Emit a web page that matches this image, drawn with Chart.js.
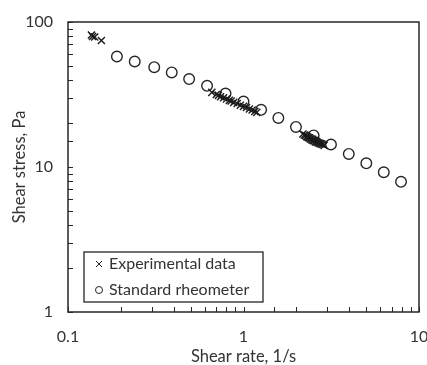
<!DOCTYPE html>
<html>
<head>
<meta charset="utf-8">
<script src="https://cdn.jsdelivr.net/npm/chart.js@4.4.1/dist/chart.umd.min.js"></script>
<style>
  html, body { margin: 0; padding: 0; background: #fff; }
  #wrap { width: 427px; height: 365px; }
</style>
</head>
<body>
<div id="wrap"><canvas id="flow" width="427" height="365"></canvas></div>
<script>
// Experimental data (crosses)
var expX = [0.136, 0.138, 0.142, 0.155,
            0.66, 0.70, 0.72, 0.74, 0.77, 0.80, 0.83, 0.85, 0.88, 0.92, 0.96, 1.00, 1.04, 1.08, 1.12, 1.16, 1.19,
            2.18, 2.22, 2.26, 2.29, 2.32, 2.35, 2.38, 2.40, 2.43, 2.46, 2.48, 2.51, 2.54, 2.57, 2.60, 2.63, 2.66, 2.70, 2.74, 2.78, 2.83, 2.88];
var expY = [81.4, 79.4, 78.8, 74.6,
            32.7, 31.6, 31.2, 30.5, 30.0, 29.4, 28.8, 28.5, 27.9, 27.4, 26.7, 26.2, 25.7, 25.1, 24.7, 24.2, 23.8,
            16.9, 16.6, 16.5, 16.2, 16.1, 15.9, 15.9, 15.6, 15.6, 15.3, 15.5, 15.2, 15.2, 14.9, 15.0, 14.8, 14.7, 14.6, 14.5, 14.4, 14.3, 14.1];

// Standard rheometer (open circles)
var rheoX = [0.19, 0.24, 0.31, 0.39, 0.49, 0.62, 0.79, 1.0, 1.26, 1.58, 1.99, 2.51, 3.15, 3.98, 5.01, 6.3, 7.9];
var rheoY = [57.8, 53.4, 48.8, 44.9, 40.4, 36.3, 32.1, 28.3, 24.8, 21.8, 18.9, 16.5, 14.3, 12.3, 10.6, 9.2, 7.9];

var xLabels = ["0.1", "1", "10"];
var yLabels = ["1", "10", "100"];

var txtColor = "#333";
var fontFam = "Lato, 'Liberation Sans', sans-serif";

function pairs(xs, ys) {
	return xs.map(function (x, i) { return { x: x, y: ys[i] }; });
}

// frame around the plot + small ticks pointing inside
var framePlugin = {
	id: "frame",
	beforeDatasetsDraw: function (chart) {
		var ctx = chart.ctx, a = chart.chartArea;
		ctx.save();
		ctx.strokeStyle = "#262626";
		ctx.lineWidth = 1.5;
		ctx.strokeRect(a.left, a.top, a.right - a.left, a.bottom - a.top);
		ctx.lineWidth = 1;
		var xs = chart.scales.x, ys = chart.scales.y;
		xs.ticks.forEach(function (t) {
			var px = Math.round(xs.getPixelForValue(t.value)) + 0.5;
			ctx.beginPath();
			ctx.moveTo(px, a.bottom);
			ctx.lineTo(px, a.bottom - 5);
			ctx.stroke();
		});
		ys.ticks.forEach(function (t) {
			var py = Math.round(ys.getPixelForValue(t.value)) + 0.5;
			ctx.beginPath();
			ctx.moveTo(a.left, py);
			ctx.lineTo(a.left + 5, py);
			ctx.stroke();
		});
		ctx.restore();
	}
};

// legend box in the lower left of the plot
var legendPlugin = {
	id: "boxLegend",
	afterDatasetsDraw: function (chart) {
		var ctx = chart.ctx, a = chart.chartArea;
		var bx = a.left + 16, by = a.bottom - 60, bw = 179, bh = 50;
		ctx.save();
		ctx.fillStyle = "#fff";
		ctx.fillRect(bx, by, bw, bh);
		ctx.strokeStyle = "#262626";
		ctx.lineWidth = 1.3;
		ctx.strokeRect(bx, by, bw, bh);
		ctx.font = "16px " + fontFam;
		ctx.fillStyle = txtColor;
		ctx.textBaseline = "middle";
		chart.data.datasets.forEach(function (ds, i) {
			var cy = by + 12 + i * 26, cx = bx + 15;
			ctx.strokeStyle = "#222";
			ctx.lineWidth = 1;
			ctx.beginPath();
			if (ds.pointStyle === "crossRot") {
				ctx.moveTo(cx - 3, cy - 3); ctx.lineTo(cx + 3, cy + 3);
				ctx.moveTo(cx + 3, cy - 3); ctx.lineTo(cx - 3, cy + 3);
			} else {
				ctx.arc(cx, cy, 3.5, 0, Math.PI * 2);
			}
			ctx.stroke();
			ctx.fillText(ds.label, cx + 10, cy);
		});
		ctx.restore();
	}
};

var flowChart = new Chart(document.getElementById("flow"), {
	type: "scatter",
	data: {
		datasets: [
			{
				label: "Experimental data",
				data: pairs(expX, expY),
				pointStyle: "crossRot",
				pointRadius: 5,
				borderColor: "#1a1a1a",
				borderWidth: 1.4,
				backgroundColor: "#1a1a1a"
			},
			{
				label: "Standard rheometer",
				data: pairs(rheoX, rheoY),
				pointStyle: "circle",
				pointRadius: 5.3,
				borderColor: "#262626",
				borderWidth: 1.4,
				backgroundColor: "rgba(0,0,0,0)"
			}
		]
	},
	options: {
		responsive: false,
		animation: false,
		layout: { padding: { top: 22, right: 8, left: 0, bottom: 0 } },
		plugins: { legend: { display: false }, tooltip: { enabled: false } },
		scales: {
			x: {
				type: "logarithmic",
				min: 0.1,
				max: 10,
				grid: { display: false, drawTicks: false },
				border: { display: false },
				ticks: {
					autoSkip: false,
					maxRotation: 0,
					padding: 15,
					color: txtColor,
					font: { family: fontFam, size: 16 },
					callback: function (v) {
						var s = String(Number(v.toPrecision(3)));
						return xLabels.indexOf(s) >= 0 ? s : "";
					}
				},
				title: {
					display: true,
					text: "Shear rate, 1/s",
					color: txtColor,
					font: { family: fontFam, size: 16.5 },
					padding: { top: 0, bottom: -2 }
				},
				afterFit: function (s) {
					s.height = 53;
					s.paddingLeft = 0;
					s.paddingRight = 0;
				}
			},
			y: {
				type: "logarithmic",
				min: 1,
				max: 100,
				grid: { display: false, drawTicks: false },
				border: { display: false },
				ticks: {
					autoSkip: false,
					padding: 15,
					color: txtColor,
					font: { family: fontFam, size: 16 },
					callback: function (v) {
						var s = String(Number(v.toPrecision(3)));
						return yLabels.indexOf(s) >= 0 ? s : "";
					}
				},
				title: {
					display: true,
					text: "Shear stress, Pa",
					color: txtColor,
					font: { family: fontFam, size: 16.5 },
					padding: { top: 10, bottom: 0 }
				},
				afterFit: function (s) {
					s.width = 68;
					s.paddingTop = 0;
					s.paddingBottom = 0;
				}
			}
		}
	},
	plugins: [framePlugin, legendPlugin]
});
</script>
</body>
</html>
